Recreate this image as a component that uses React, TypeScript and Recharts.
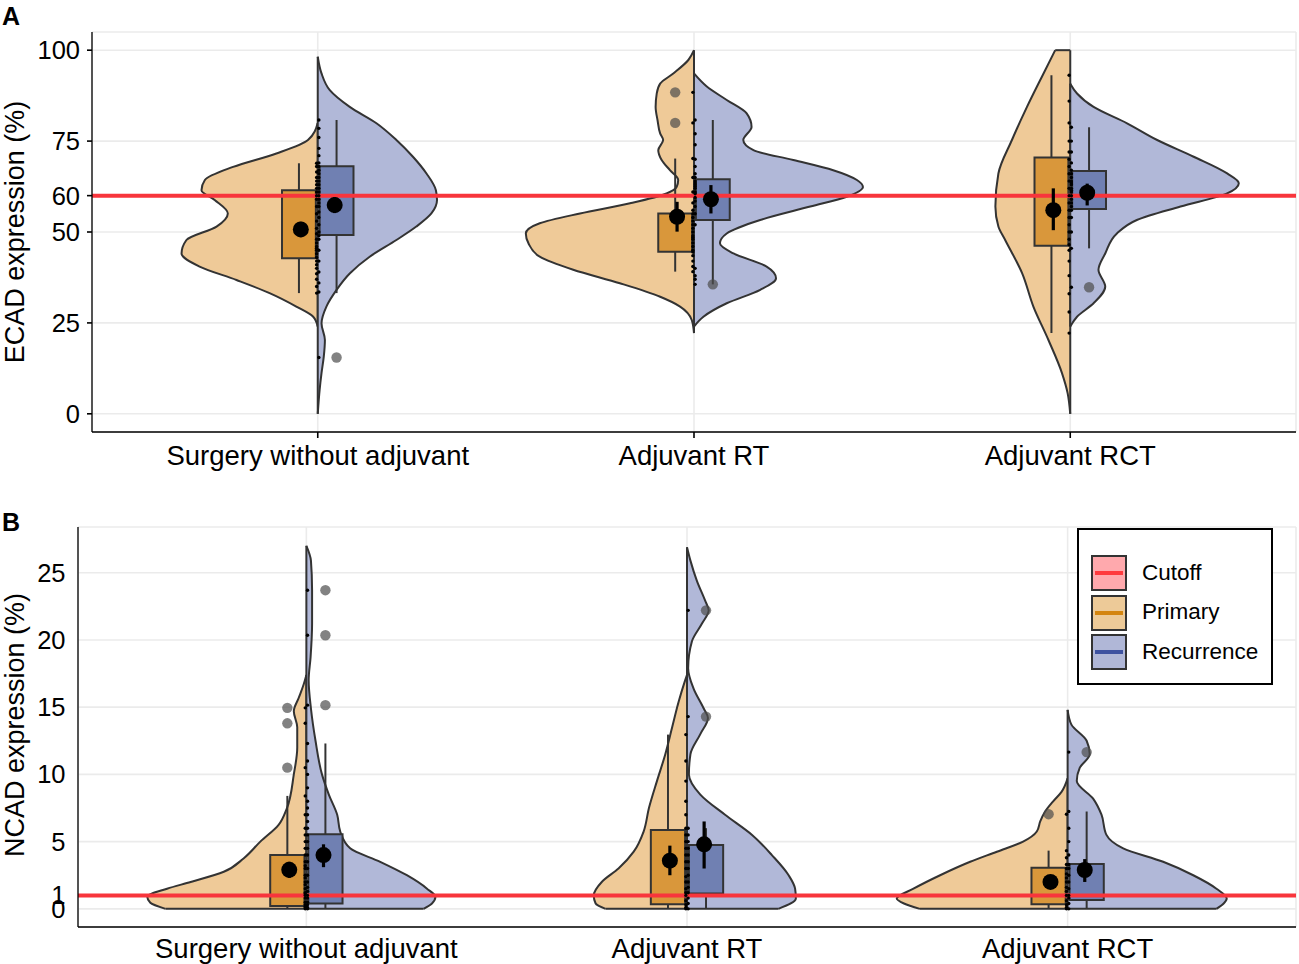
import React from "react";
import {
  Area,
  CartesianGrid,
  ComposedChart,
  ReferenceArea,
  ReferenceLine,
  Scatter,
  XAxis,
  YAxis,
} from "recharts";

type Pair = [number, number];

const CATEGORIES = ["Surgery without adjuvant", "Adjuvant RT", "Adjuvant RCT"];
const CATEGORY_POS = [1, 2, 3];

const A_TICKS = [0, 25, 50, 60, 75, 100];
const A_CUTOFF = 60;
const B_TICKS = [0, 1, 5, 10, 15, 20, 25];
const B_CUTOFF = 1;

/* violin outlines: [value, half width in category units] */
const A_VIO_SURG_PRI: Pair[] = [[24, 0], [26.7, 0.012], [29.5, 0.057], [33.2, 0.128], [36.8, 0.216], [40.5, 0.314], [44.1, 0.362], [47.8, 0.349], [51.5, 0.269], [55.1, 0.239], [58.8, 0.274], [61.5, 0.309], [64.3, 0.3], [67.9, 0.225], [71.6, 0.11], [75.3, 0.026], [80, 0]];
const A_VIO_SURG_REC: Pair[] = [[0, 0], [6.6, 0.005], [11.2, 0.01], [15.7, 0.016], [20.3, 0.019], [24.9, 0.01], [29.5, 0.023], [34.1, 0.05], [38.6, 0.085], [43.2, 0.138], [47.8, 0.209], [51.5, 0.262], [55.1, 0.302], [58.8, 0.317], [61.5, 0.314], [66.1, 0.289], [70.7, 0.253], [75.3, 0.209], [79.9, 0.156], [84.4, 0.085], [89, 0.032], [93.6, 0.01], [98.2, 0]];
const A_VIO_RT_PRI: Pair[] = [[22.2, 0], [25.8, 0.006], [29.5, 0.037], [32.2, 0.09], [35.9, 0.197], [39.6, 0.321], [43.2, 0.41], [46.9, 0.44], [49.6, 0.447], [52.4, 0.41], [55.1, 0.303], [57.9, 0.17], [60.6, 0.073], [62.4, 0.046], [64.3, 0.042], [67, 0.064], [69.8, 0.086], [72.5, 0.095], [75.3, 0.082], [77.1, 0.09], [80.8, 0.097], [84.4, 0.102], [88.1, 0.099], [90.8, 0.09], [93.6, 0.055], [97.3, 0.015], [100, 0]];
const A_VIO_RT_REC: Pair[] = [[24, 0], [26.7, 0.025], [30.4, 0.087], [34.1, 0.176], [37.3, 0.218], [40.5, 0.193], [44.1, 0.105], [46.9, 0.069], [49.6, 0.087], [53.3, 0.176], [57, 0.309], [59.7, 0.406], [62.4, 0.449], [64.3, 0.433], [67, 0.37], [69.8, 0.264], [72.5, 0.158], [75.3, 0.131], [78.9, 0.153], [82.6, 0.14], [86.3, 0.087], [90, 0.034], [93.6, 0]];
const A_VIO_RCT_PRI: Pair[] = [[0, 0], [5.7, 0.007], [11.2, 0.022], [20.3, 0.058], [29.5, 0.098], [38.7, 0.128], [47.8, 0.173], [51.5, 0.191], [57, 0.199], [66.1, 0.191], [75.3, 0.155], [84.4, 0.115], [93.6, 0.071], [100, 0.04]];
const A_VIO_RCT_REC: Pair[] = [[24, 0], [26.7, 0.018], [30.4, 0.062], [35, 0.093], [39.6, 0.075], [44.1, 0.093], [49.6, 0.124], [53.3, 0.177], [57, 0.293], [60.6, 0.417], [63.4, 0.448], [66.1, 0.417], [70.7, 0.328], [75.3, 0.231], [79.9, 0.151], [84.4, 0.062], [88.1, 0.018], [90.8, 0]];

const B_VIO_SURG_PRI: Pair[] = [[0, 0.37], [0.45, 0.41], [0.9, 0.418], [1.5, 0.366], [2.0, 0.304], [2.76, 0.217], [3.75, 0.165], [5, 0.121], [6.25, 0.073], [7.5, 0.051], [10, 0.033], [12, 0.024], [13.5, 0.024], [14.7, 0.033], [15.7, 0.02], [16.7, 0.007], [17.4, 0]];
const B_VIO_SURG_REC: Pair[] = [[0, 0.308], [0.4, 0.33], [0.9, 0.339], [1.5, 0.317], [2.5, 0.264], [3.5, 0.194], [4.5, 0.115], [5.75, 0.089], [7, 0.081], [8.5, 0.059], [10, 0.041], [12.5, 0.024], [14.9, 0.012], [17, 0.006], [18.7, 0.011], [21.2, 0.015], [23.7, 0.015], [25.9, 0.012], [27, 0]];
const B_VIO_RT_PRI: Pair[] = [[0, 0.214], [0.4, 0.24], [1.0, 0.245], [2.0, 0.224], [3.0, 0.18], [4.25, 0.14], [5.75, 0.114], [7.5, 0.1], [9.5, 0.079], [11.5, 0.057], [13.5, 0.039], [15.4, 0.022], [16.9, 0.006], [17.4, 0]];
const B_VIO_RT_REC: Pair[] = [[0, 0.24], [0.77, 0.286], [1.5, 0.284], [2.5, 0.267], [4.0, 0.223], [5.5, 0.171], [7, 0.1], [8.5, 0.035], [10, 0.005], [11.5, 0.009], [13, 0.035], [14.2, 0.055], [14.9, 0.044], [16.4, 0.017], [17.9, 0.003], [19.9, 0.013], [21.2, 0.039], [22.2, 0.057], [22.9, 0.048], [24.4, 0.026], [25.9, 0.009], [26.9, 0]];
const B_VIO_RCT_PRI: Pair[] = [[0, 0.388], [0.4, 0.43], [0.77, 0.449], [1.5, 0.405], [2.5, 0.335], [3.5, 0.256], [4.25, 0.186], [5, 0.117], [5.75, 0.081], [6.5, 0.072], [7.2, 0.06], [8, 0.038], [8.7, 0.016], [9.7, 0]];
const B_VIO_RCT_REC: Pair[] = [[0, 0.391], [0.4, 0.41], [0.77, 0.418], [1.5, 0.391], [2.5, 0.33], [3.5, 0.251], [4.5, 0.146], [5.5, 0.102], [7, 0.089], [8.2, 0.067], [9.5, 0.024], [10.5, 0.032], [11.5, 0.058], [12.5, 0.05], [13.7, 0.01], [14.8, 0]];

/* boxes per category: [q1, q3, lower whisker, upper whisker] */
const A_BOX_PRI = [[42.8, 61.5, 33.2, 68.9], [44.6, 55.1, 39.1, 70.2], [46.2, 70.5, 22.2, 93.1]];
const A_BOX_REC = [[49.2, 68.1, 33.2, 80.8], [53.3, 64.5, 35.6, 80.8], [56.3, 66.8, 45.5, 78.8]];
const B_BOX_PRI = [[0.22, 4.0, 0, 8.4], [0.35, 5.87, 0, 12.96], [0.35, 3.06, 0, 4.33]];
const B_BOX_REC = [[0.4, 5.55, 0, 12.3], [1.15, 4.75, 0, 6.0], [0.65, 3.33, 0, 7.24]];

/* mean and its interval */
const A_MEAN_PRI = [50.7, 54.2, 56.0];
const A_MEAN_REC = [57.4, 59.0, 60.8];
const A_CI_PRI: Pair[] = [[48.6, 52.8], [50.1, 58.3], [50.5, 62.0]];
const A_CI_REC: Pair[] = [[55.2, 59.6], [55.1, 62.9], [57.3, 63.3]];
const B_MEAN_PRI = [2.9, 3.58, 2.0];
const B_MEAN_REC = [4.0, 4.8, 2.89];
const B_CI_PRI: Pair[] = [[2.3, 3.5], [2.5, 4.7], [1.6, 2.4]];
const B_CI_REC: Pair[] = [[3.1, 4.8], [3.0, 6.5], [2.0, 3.7]];

/* outliers */
const A_OUT_PRI = [[], [88.4, 80.0], []];
const A_OUT_REC = [[15.5], [35.6], [34.8]];
const B_OUT_PRI = [[14.95, 13.8, 10.5], [], [7.04]];
const B_OUT_REC = [[23.7, 20.35, 15.15], [22.2, 14.3], [11.66]];

/* raw observations */
const A_PTS_PRI = [
  [33.2, 35, 37, 38.5, 40, 41, 42, 43, 44, 45, 45.5, 46, 47, 48, 49.5, 51, 53, 55, 57, 59, 60, 61, 62, 63, 64, 65, 66.5, 68, 68.9],
  [39.1, 40.5, 42, 43.5, 44.5, 45, 46, 47, 48, 48.5, 49, 50, 51, 52, 53, 54, 55, 56, 58, 61, 65, 70.2, 80, 88.4],
  [22.2, 28, 33, 38, 42, 45, 46.5, 48, 50, 52, 54, 56, 58, 60, 62, 64, 66, 68, 70, 72, 75, 80, 86, 93.1],
];
const A_PTS_REC = [
  [15.5, 33.5, 36, 39, 42, 45, 48, 49, 50, 52, 54, 55.5, 57, 58, 59, 60, 61, 62, 63, 64, 65, 66, 67, 68, 69, 71, 73, 76, 78.5, 80.8],
  [35.6, 37, 38, 40, 52, 55, 57, 58.5, 59.5, 60.5, 61, 62, 62.5, 63, 63.5, 64, 65, 66, 68, 70, 74, 77, 80.8],
  [34.8, 45.5, 50, 54, 56, 57, 58, 59, 60, 61, 61.5, 62, 63, 63.5, 64, 65, 66, 67, 69, 72, 75, 78.8],
];
const B_PTS_PRI = [
  [0, 0.1, 0.2, 0.3, 0.5, 0.8, 1, 1.1, 1.2, 1.5, 1.8, 2, 2.3, 2.5, 3, 3.2, 3.5, 4, 4.5, 5, 5.5, 6, 7, 8.4, 10.5, 13.8, 14.95],
  [0, 0.1, 0.3, 0.6, 1, 1.2, 1.5, 2, 2.4, 3, 3.5, 4, 4.5, 5, 5.5, 6, 7, 8, 9.5, 11, 12.96],
  [0, 0.1, 0.3, 0.6, 1, 1.3, 1.6, 2, 2.3, 2.6, 3, 3.3, 3.8, 4.33, 7.04],
];
const B_PTS_REC = [
  [0, 0.1, 0.3, 0.5, 0.8, 1, 1.3, 1.6, 2, 2.5, 3, 3.5, 4, 4.5, 5, 5.5, 6, 6.5, 7, 7.5, 8, 9, 10, 11, 12.3, 15.15, 20.35, 23.7],
  [0, 0.4, 0.8, 1.2, 1.6, 2, 2.5, 3, 3.5, 4, 4.5, 5, 5.5, 6, 14.3, 22.2],
  [0, 0.4, 0.8, 1, 1.5, 2, 2.5, 3, 3.3, 4, 5, 6, 7.24, 11.66],
];

const FONT = "'Liberation Sans', Arial, Helvetica, sans-serif";
const OUTLINE = "#333333";
const GRID = "#EBEBEB";
const CUTOFF_RED = "#F8353C";
const VIOLIN_FILL = ["#EFCA98", "#B1B8D8"];
const BOX_FILL = ["#D9973B", "#7080B2"];
const BOX_OFF = 0.05;
const BOX_HALF = 0.045;
const MEAN_OFF = 0.045;
const PTS_OFF = 0.003;
const LW = 2;

type Side = {
  vio: Pair[][];
  box: number[][];
  mean: number[];
  ci: Pair[];
  out: number[][];
  pts: number[][];
};

const Dot = (r: number, fill: string, opacity = 1) => (p: any) =>
  <circle cx={p.cx} cy={p.cy} r={r} fill={fill} fillOpacity={opacity} />;

function Panel(props: {
  height: number;
  top: number;
  yAxisWidth: number;
  xAxisHeight: number;
  yDomain: [number, number];
  yTicks: number[];
  cutoff: number;
  tickMarks: boolean;
  yTickMargin: number;
  xTickMargin: number;
  sides: Side[];
}) {
  const { sides } = props;
  const els: React.ReactNode[] = [];

  // half violins, drawn as ranged areas along the value axis
  sides.forEach((side, s) => {
    const sign = s === 0 ? -1 : 1;
    CATEGORY_POS.forEach((c, i) => {
      const pairs = side.vio[i];
      const data = pairs.map(([v, w]) => ({ y: v, r: sign < 0 ? [c - w, c] : [c, c + w] }));
      els.push(
        <Area
          key={`v${s}${i}`}
          data={data}
          dataKey="r"
          type="monotone"
          stroke={OUTLINE}
          strokeWidth={LW}
          fill={VIOLIN_FILL[s]}
          fillOpacity={1}
          dot={false}
          activeDot={false}
          isAnimationActive={false}
          zIndex={100}
        />
      );
      // trimmed ends of the violin
      [pairs[0], pairs[pairs.length - 1]].forEach(([v, w], k) => {
        if (w > 0)
          els.push(
            <ReferenceLine
              key={`e${s}${i}${k}`}
              segment={[{ x: c, y: v }, { x: c + sign * w, y: v }]}
              stroke={OUTLINE}
              strokeWidth={LW}
              zIndex={110}
            />
          );
      });
    });
  });

  sides.forEach((side, s) => {
    const sign = s === 0 ? -1 : 1;
    CATEGORY_POS.forEach((c, i) => {
      const [q1, q3, lo, hi] = side.box[i];
      const bx = c + sign * BOX_OFF;
      els.push(
        <ReferenceLine
          key={`w${s}${i}`}
          segment={[{ x: bx, y: lo }, { x: bx, y: hi }]}
          stroke={OUTLINE}
          strokeWidth={LW}
          zIndex={150}
        />
      );
      els.push(
        <ReferenceArea
          key={`b${s}${i}`}
          x1={bx - BOX_HALF}
          x2={bx + BOX_HALF}
          y1={q1}
          y2={q3}
          fill={BOX_FILL[s]}
          fillOpacity={1}
          stroke={OUTLINE}
          strokeWidth={LW}
          zIndex={200}
        />
      );
    });
  });

  els.push(
    <ReferenceLine key="cut" y={props.cutoff} stroke={CUTOFF_RED} strokeWidth={4} zIndex={250} />
  );

  sides.forEach((side, s) => {
    const sign = s === 0 ? -1 : 1;
    const pts = CATEGORY_POS.flatMap((c, i) => side.pts[i].map((v) => ({ x: c + sign * PTS_OFF, y: v })));
    els.push(
      <Scatter key={`p${s}`} data={pts} shape={Dot(1.7, "#000")} isAnimationActive={false} zIndex={300} />
    );
  });

  sides.forEach((side, s) => {
    const sign = s === 0 ? -1 : 1;
    const outs = CATEGORY_POS.flatMap((c, i) => side.out[i].map((v) => ({ x: c + sign * BOX_OFF, y: v })));
    els.push(
      <Scatter key={`o${s}`} data={outs} shape={Dot(5.2, "#4D4D4D", 0.7)} isAnimationActive={false} zIndex={350} />
    );
  });

  sides.forEach((side, s) => {
    const sign = s === 0 ? -1 : 1;
    CATEGORY_POS.forEach((c, i) => {
      const [l, h] = side.ci[i];
      els.push(
        <ReferenceLine
          key={`c${s}${i}`}
          segment={[{ x: c + sign * MEAN_OFF, y: l }, { x: c + sign * MEAN_OFF, y: h }]}
          stroke="#000"
          strokeWidth={3.2}
          zIndex={400}
        />
      );
    });
    const means = CATEGORY_POS.map((c, i) => ({ x: c + sign * MEAN_OFF, y: side.mean[i] }));
    els.push(
      <Scatter key={`m${s}`} data={means} shape={Dot(8, "#000")} isAnimationActive={false} zIndex={450} />
    );
  });

  const tickStyle = { fontSize: 25.5, fill: "#000", fontFamily: FONT };
  const axisLine = { stroke: "#000", strokeWidth: 1.3 };

  return (
    <ComposedChart
      width={1299}
      height={props.height}
      layout="vertical"
      margin={{ top: props.top, right: 3, bottom: 0, left: 0 }}
    >
      <CartesianGrid stroke={GRID} strokeWidth={1.6} />
      <XAxis
        type="number"
        dataKey="x"
        domain={[0.4, 3.6]}
        allowDataOverflow
        ticks={CATEGORY_POS}
        interval={0}
        tickFormatter={(v) => CATEGORIES[Math.round(v) - 1]}
        height={props.xAxisHeight}
        tick={{ ...tickStyle, fontSize: 27.5 }}
        axisLine={axisLine}
        tickLine={props.tickMarks ? { stroke: "#000", strokeWidth: 1.6 } : false}
        tickSize={props.tickMarks ? 6 : 0}
        tickMargin={props.xTickMargin}
      />
      <YAxis
        type="number"
        dataKey="y"
        domain={props.yDomain}
        allowDataOverflow
        reversed
        ticks={props.yTicks}
        interval={0}
        width={props.yAxisWidth}
        tick={tickStyle}
        axisLine={axisLine}
        tickLine={props.tickMarks ? { stroke: "#000", strokeWidth: 1.6 } : false}
        tickSize={props.tickMarks ? 5 : 0}
        tickMargin={props.yTickMargin}
      />
      {els}
    </ComposedChart>
  );
}

const LEGEND = [
  { label: "Cutoff", fill: "#FFA9AD", line: "#FF3A3E" },
  { label: "Primary", fill: "#EDCA98", line: "#D4850F" },
  { label: "Recurrence", fill: "#B0B7D7", line: "#3E52A0" },
];

function YTitle({ text, cx, cy }: { text: string; cx: number; cy: number }) {
  return (
    <div
      style={{
        position: "absolute",
        left: cx,
        top: cy,
        transform: "translate(-50%, -50%) rotate(-90deg)",
        whiteSpace: "nowrap",
        fontSize: 27,
        lineHeight: "27px",
      }}
    >
      {text}
    </div>
  );
}

export default function App() {
  const sidesA: Side[] = [
    { vio: [A_VIO_SURG_PRI, A_VIO_RT_PRI, A_VIO_RCT_PRI], box: A_BOX_PRI, mean: A_MEAN_PRI, ci: A_CI_PRI, out: A_OUT_PRI, pts: A_PTS_PRI },
    { vio: [A_VIO_SURG_REC, A_VIO_RT_REC, A_VIO_RCT_REC], box: A_BOX_REC, mean: A_MEAN_REC, ci: A_CI_REC, out: A_OUT_REC, pts: A_PTS_REC },
  ];
  const sidesB: Side[] = [
    { vio: [B_VIO_SURG_PRI, B_VIO_RT_PRI, B_VIO_RCT_PRI], box: B_BOX_PRI, mean: B_MEAN_PRI, ci: B_CI_PRI, out: B_OUT_PRI, pts: B_PTS_PRI },
    { vio: [B_VIO_SURG_REC, B_VIO_RT_REC, B_VIO_RCT_REC], box: B_BOX_REC, mean: B_MEAN_REC, ci: B_CI_REC, out: B_OUT_REC, pts: B_PTS_REC },
  ];

  return (
    <div
      style={{
        position: "absolute",
        left: 0,
        top: 0,
        width: 1299,
        height: 964,
        background: "#fff",
        fontFamily: FONT,
        color: "#000",
        overflow: "hidden",
      }}
    >
      <div style={{ position: "absolute", left: 0, top: 0 }}>
        <Panel
          height={500}
          top={32}
          yAxisWidth={92}
          xAxisHeight={68}
          yDomain={[-5, 105]}
          yTicks={A_TICKS}
          cutoff={A_CUTOFF}
          tickMarks
          yTickMargin={7}
          xTickMargin={7}
          sides={sidesA}
        />
      </div>
      <div style={{ position: "absolute", left: 0, top: 490 }}>
        <Panel
          height={474}
          top={37}
          yAxisWidth={78}
          xAxisHeight={37}
          yDomain={[-1.35, 28.4]}
          yTicks={B_TICKS}
          cutoff={B_CUTOFF}
          tickMarks={false}
          yTickMargin={12.5}
          xTickMargin={11.5}
          sides={sidesB}
        />
      </div>

      <div style={{ position: "absolute", left: 2, top: 4, fontSize: 25, lineHeight: "25px", fontWeight: 700 }}>A</div>
      <div style={{ position: "absolute", left: 2, top: 510, fontSize: 25, lineHeight: "25px", fontWeight: 700 }}>B</div>
      <YTitle text="ECAD expression (%)" cx={15} cy={232} />
      <YTitle text="NCAD expression (%)" cx={15} cy={725} />

      <div
        style={{
          position: "absolute",
          left: 1077,
          top: 528,
          width: 196,
          height: 157,
          border: "2px solid #000",
          boxSizing: "border-box",
          background: "#fff",
        }}
      >
        {LEGEND.map((item, i) => (
          <div
            key={item.label}
            style={{
              position: "absolute",
              left: 12,
              top: 25 + i * 39.5,
              height: 36,
              display: "flex",
              alignItems: "center",
            }}
          >
            <div
              style={{
                width: 36,
                height: 36,
                boxSizing: "border-box",
                border: `2px solid ${OUTLINE}`,
                background: item.fill,
                position: "relative",
              }}
            >
              <div
                style={{
                  position: "absolute",
                  left: 2,
                  right: 2,
                  top: 14,
                  height: 4,
                  background: item.line,
                }}
              />
            </div>
            <div style={{ marginLeft: 15, fontSize: 22.5, lineHeight: "22.5px", whiteSpace: "nowrap" }}>
              {item.label}
            </div>
          </div>
        ))}
      </div>
    </div>
  );
}
